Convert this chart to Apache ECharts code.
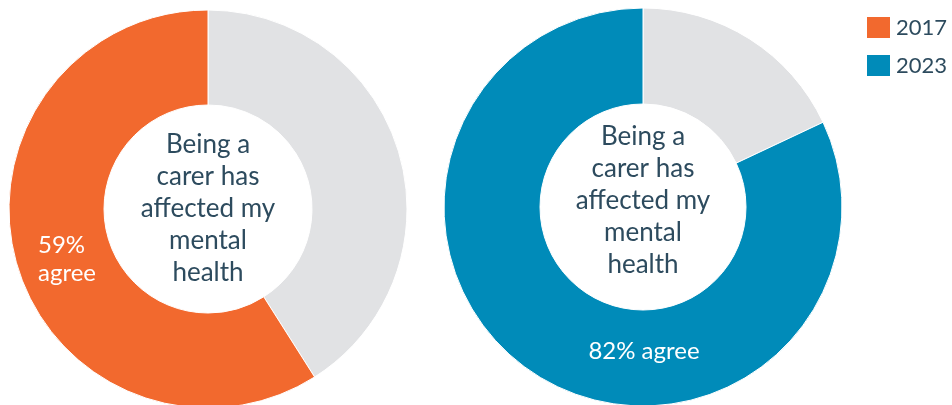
<!DOCTYPE html>
<html>
<head>
<meta charset="utf-8">
<script src="https://cdn.jsdelivr.net/npm/echarts@6/dist/echarts.min.js"></script>
<style>
html,body{margin:0;padding:0;background:#fff;}
#chart{width:952px;height:405px;}
</style>
</head>
<body>
<div id="chart"></div>
<script>
const years = ['2017', '2023'];
const agreePct = [59, 82];
const centerLines = ['Being a', 'carer has', 'affected my', 'mental', 'health'];
const colors = ['#F2692E', '#008BB9'];
const restColor = '#E1E2E4';
const textColor = '#2D4B5E';
const font = 'Lato';

const chart = echarts.init(document.getElementById('chart'));

const centers = [[208, 209], [643, 207]];
const radii = [[104, 199], [103, 199]];
const centerTextY = [209, 201];

const series = years.map((y, i) => ({
  type: 'pie',
  name: y,
  center: centers[i],
  radius: radii[i],
  startAngle: 90,
  clockwise: true,
  silent: true,
  animation: false,
  label: { show: false },
  labelLine: { show: false },
  emphasis: { disabled: true },
  itemStyle: { borderColor: '#ffffff', borderWidth: 1 },
  data: [
    { name: 'rest ' + y, value: 100 - agreePct[i], itemStyle: { color: restColor } },
    { name: y, value: agreePct[i], itemStyle: { color: colors[i] } }
  ]
}));

const graphics = [];
years.forEach((y, i) => {
  graphics.push({
    type: 'text',
    x: centers[i][0],
    y: centerTextY[i],
    z: 100,
    silent: true,
    style: {
      text: centerLines.join('\n'),
      align: 'center',
      verticalAlign: 'middle',
      fontSize: 26,
      fontFamily: font,
      lineHeight: 32,
      fill: textColor
    }
  });
});
graphics.push({
  type: 'text', silent: true, z: 100,
  x: 38, y: 259,
  style: {
    text: agreePct[0] + '%\nagree',
    align: 'left', verticalAlign: 'middle',
    fontSize: 24, fontFamily: font, lineHeight: 28, fill: '#ffffff'
  }
});
graphics.push({
  type: 'text', silent: true, z: 100,
  x: 644, y: 351,
  style: {
    text: agreePct[1] + '% agree',
    align: 'center', verticalAlign: 'middle',
    fontSize: 24, fontFamily: font, fill: '#ffffff'
  }
});

chart.setOption({
  animation: false,
  legend: {
    data: years.map((y, i) => ({ name: y, itemStyle: { color: colors[i] } })),
    orient: 'vertical',
    left: 860,
    top: 10,
    icon: 'rect',
    itemWidth: 25,
    itemHeight: 23,
    itemGap: 13,
    selectedMode: false,
    textStyle: { fontSize: 22, fontFamily: font, color: textColor }
  },
  series: series,
  graphic: graphics
});
</script>
</body>
</html>
